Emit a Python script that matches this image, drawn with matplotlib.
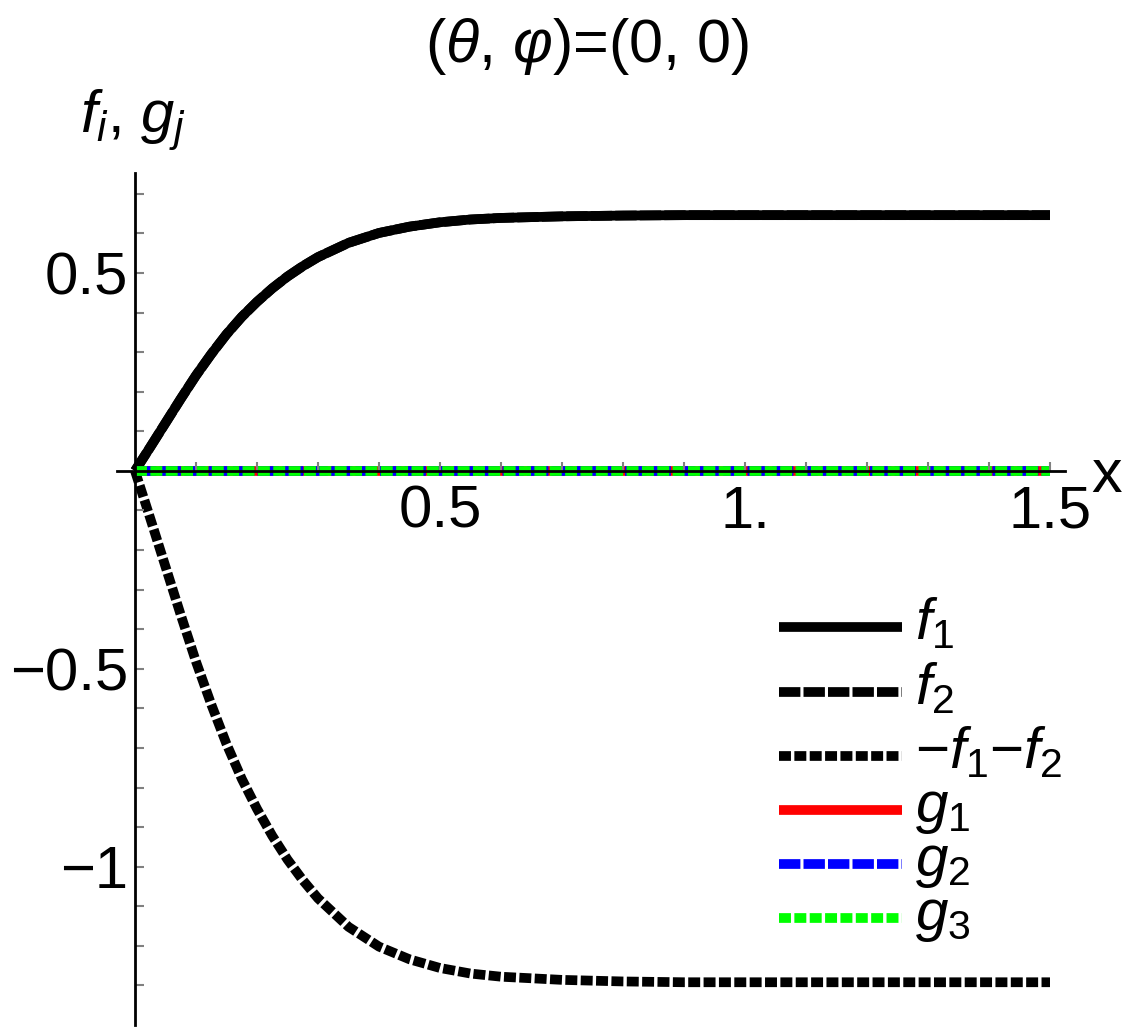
import matplotlib
matplotlib.use("Agg")
import matplotlib.pyplot as plt
from matplotlib.lines import Line2D
from matplotlib.ticker import FixedLocator, FixedFormatter
import numpy as np

plt.rcParams['font.family'] = ['Liberation Sans', 'DejaVu Sans']
plt.rcParams['mathtext.fontset'] = 'custom'
plt.rcParams['mathtext.rm'] = 'Liberation Sans'
plt.rcParams['mathtext.it'] = 'Liberation Sans:italic'
plt.rcParams['mathtext.bf'] = 'Liberation Sans:bold'

# ---- data ----
x_vals = [0, 0.025, 0.05, 0.075, 0.1, 0.125, 0.15, 0.175, 0.2, 0.225, 0.25, 0.275,
          0.3, 0.35, 0.4, 0.45, 0.5, 0.55, 0.6, 0.7, 0.8, 0.9, 1.0, 1.2, 1.5]
f1_vals = [0, 0.060, 0.121, 0.182, 0.241, 0.295, 0.345, 0.389, 0.427, 0.461, 0.491, 0.517,
           0.540, 0.576, 0.601, 0.617, 0.628, 0.635, 0.639, 0.643, 0.645, 0.646, 0.646, 0.646, 0.646]
f2_vals = [0, 0.060, 0.121, 0.182, 0.241, 0.295, 0.345, 0.389, 0.427, 0.461, 0.491, 0.517,
           0.540, 0.576, 0.601, 0.617, 0.628, 0.635, 0.639, 0.643, 0.645, 0.646, 0.646, 0.646, 0.646]
g1_vals = [0.0] * len(x_vals)
g2_vals = [0.0] * len(x_vals)
g3_vals = [0.0] * len(x_vals)

x_major = [0.5, 1.0, 1.5]
x_major_labels = ['0.5', '1.', '1.5']
y_major = [-1.0, -0.5, 0.5]
y_major_labels = ['\u22121', '\u22120.5', '0.5']
x_minor = [0.1, 0.2, 0.3, 0.4, 0.6, 0.7, 0.8, 0.9, 1.1, 1.2, 1.3, 1.4]
y_minor = [-1.3, -1.2, -1.1, -0.9, -0.8, -0.7, -0.6, -0.4, -0.3, -0.2, -0.1,
           0.1, 0.2, 0.3, 0.4, 0.6, 0.7]

title_text = '($\u03b8$, $\u03c6$)=(0, 0)'
labels = ['$f_1$', '$f_2$', '\u2212$f_1$\u2212$f_2$', '$g_1$', '$g_2$', '$g_3$']

neg_sum = [-(a + b) for a, b in zip(f1_vals, f2_vals)]

W, H = 1125, 1032
fig = plt.figure(figsize=(W / 100, H / 100), dpi=100)
ax = fig.add_axes([117 / W, (H - 1025) / H, 948 / W, 852 / H])

LW = 7.0
solid = '-'
dashed = (0, (2.2, 0.32))
dotted = (0, (1.23, 0.35))
styles = [
    (f1_vals, 'black', solid),
    (f2_vals, 'black', dashed),
    (neg_sum, 'black', dotted),
    (g1_vals, '#ff0000', solid),
    (g2_vals, '#0000ff', dashed),
    (g3_vals, '#00ff00', dotted),
]
for yv, c, ls in styles:
    ax.plot(x_vals, yv, color=c, lw=LW, linestyle=ls, solid_capstyle='butt',
            dash_capstyle='butt', solid_joinstyle='round', zorder=2)

ax.set_xlim(-0.0295, 1.5246)
ax.set_ylim(-1.40, 0.7525)

for s in ['top', 'right']:
    ax.spines[s].set_visible(False)
ax.spines['left'].set_position(('data', 0))
ax.spines['bottom'].set_position(('data', 0))
for s in ['left', 'bottom']:
    ax.spines[s].set_linewidth(2.0)
    ax.spines[s].set_color('black')
    ax.spines[s].set_zorder(3)
ax.set_axisbelow(False)
ax.patch.set_visible(False)

ax.xaxis.set_major_locator(FixedLocator(x_major))
ax.xaxis.set_major_formatter(FixedFormatter(x_major_labels))
ax.xaxis.set_minor_locator(FixedLocator(x_minor))
ax.yaxis.set_major_locator(FixedLocator(y_major))
ax.yaxis.set_major_formatter(FixedFormatter(y_major_labels))
ax.yaxis.set_minor_locator(FixedLocator(y_minor))

ax.tick_params(which='both', direction='in', length=6.5, width=1.5, color='#808080')
ax.tick_params(axis='x', which='major', labelsize=43, pad=10)
ax.tick_params(axis='y', which='major', labelsize=43, pad=5)

# title and axis labels
fig.text(587 / W, 1 - 62 / H, title_text, ha='center', va='baseline', fontsize=44)
fig.text(80 / W, 1 - 133 / H, '$f_i$, $g_j$', ha='left', va='baseline', fontsize=43)
fig.text(1091 / W, 1 - 492 / H, 'x', ha='left', va='baseline', fontsize=44)

# legend (drawn manually to match spacing)
leg_y = [627, 692, 756, 810, 864, 918]
for (yv, c, ls), lab, py in zip(styles, labels, leg_y):
    fy = 1 - py / H
    fig.add_artist(Line2D([779 / W, 902 / W], [fy, fy], color=c, lw=LW, linestyle=ls,
                          solid_capstyle='butt', dash_capstyle='butt'))
    fig.text(915 / W, 1 - (py + 12) / H, lab, ha='left', va='baseline', fontsize=42)

fig.savefig('out.png', dpi=100)
